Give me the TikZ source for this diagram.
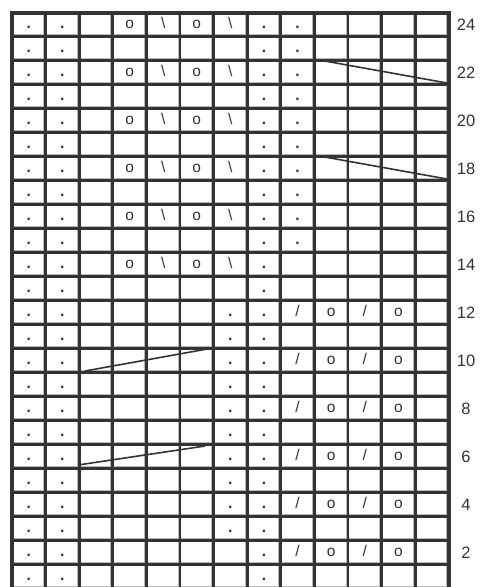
\documentclass[tikz,border=0pt]{standalone}
\usepackage{fontspec}
\setmainfont{Liberation Sans}
\definecolor{ink}{RGB}{51,51,51}
\definecolor{shade}{RGB}{185,185,185}
\tikzset{
  gridline/.style={draw=ink,line width=2.8pt},
  frameline/.style={draw=ink,line width=4pt},
  shadeline/.style={draw=shade,line width=1pt},
  sym/.style={anchor=base,inner sep=0pt,font=\fontsize{15.5}{15.5}\selectfont,text=ink},
  rowlabel/.style={anchor=base,inner sep=0pt,font=\fontsize{16.5}{16.5}\selectfont,text=ink},
  cable/.style={draw=ink,line width=1.6pt},
}
\def\symd{\bfseries .}\def\symo{o}\def\symb{\textbackslash}\def\syms{/}
\newcommand\chartrow[2]{%
  \foreach \s [count=\c] in {#2}{%
    \if x\s\else
      \node[sym] (n-#1-\c) at ({12+(\c-0.5)*33.6},{12.5+(24-#1)*24+16}) {\csname sym\s\endcsname};
    \fi
  }}
\begin{document}
\begin{tikzpicture}[x=1pt,y=-1pt]
\useasboundingbox (0,0) rectangle (481,587);
\fill[white] (0,0) rectangle (481,587);
\clip (0,0) rectangle (481,587);
% light inner shading
\foreach \k in {1,...,13} \draw[shadeline] ({12+\k*33.6-1.9},12.5) -- ({12+\k*33.6-1.9},595);
\foreach \j in {1,...,24} \draw[shadeline] (12,{12.5+\j*24-1.9}) -- (448.8,{12.5+\j*24-1.9});
% grid
\foreach \k in {1,...,12} \draw[gridline] ({12+\k*33.6},12.5) -- ({12+\k*33.6},595);
\foreach \j in {1,...,23} \draw[gridline] (12,{12.5+\j*24}) -- (448.8,{12.5+\j*24});
\draw[frameline] (12,595) -- (12,12.5) -- (448.8,12.5) -- (448.8,595);
% symbols
\foreach \r in {24,22,20,18,16} {\chartrow{\r}{d,d,x,o,b,o,b,d,d,x,x,x,x}}
\foreach \r in {23,21,19,17,15} {\chartrow{\r}{d,d,x,x,x,x,x,d,d,x,x,x,x}}
\chartrow{14}{d,d,x,o,b,o,b,d,x,x,x,x,x}
\chartrow{13}{d,d,x,x,x,x,x,d,x,x,x,x,x}
\foreach \r in {12,10,8,6,4} {\chartrow{\r}{d,d,x,x,x,x,d,d,s,o,s,o,x}}
\foreach \r in {11,9,7,5,3} {\chartrow{\r}{d,d,x,x,x,x,d,d,x,x,x,x,x}}
\chartrow{2}{d,d,x,x,x,x,x,d,s,o,s,o,x}
\chartrow{1}{d,d,x,x,x,x,x,d,x,x,x,x,x}
% cables
\coordinate (c22a) at (322,60.5);  \coordinate (c22b) at (447,83);
\coordinate (c18a) at (322,156.5); \coordinate (c18b) at (447,179);
\coordinate (c10a) at (85,371);    \coordinate (c10b) at (210,348.5);
\coordinate (c6a) at (78,465);     \coordinate (c6b) at (205,446);
\draw[cable] (c22a) -- (c22b);
\draw[cable] (c18a) -- (c18b);
\draw[cable] (c10a) -- (c10b);
\draw[cable] (c6a) -- (c6b);
% row labels
\foreach \r in {2,4,...,24} \node[rowlabel] (lab-\r) at (466,{12.5+(24-\r)*24+17.5}) {\r};
\end{tikzpicture}
\end{document}
